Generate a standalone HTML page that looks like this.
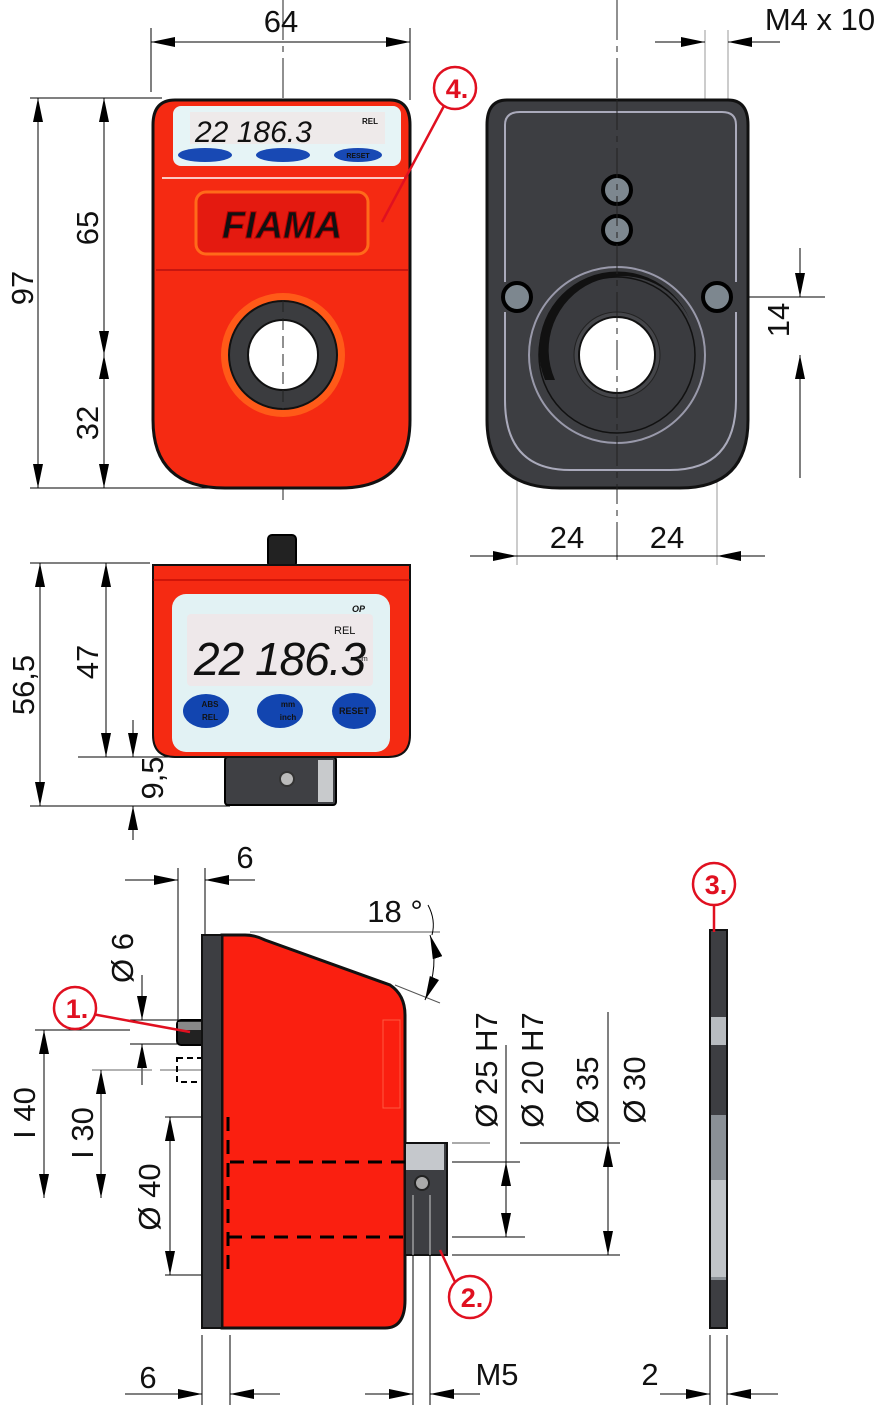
<!DOCTYPE html>
<html><head><meta charset="utf-8"><style>
html,body{margin:0;padding:0;background:#fff;}
svg{display:block;}
text{font-family:"Liberation Sans",sans-serif;fill:#111;}
.d{font-size:31px;}
</style></head><body>
<svg width="882" height="1408" viewBox="0 0 882 1408" xmlns="http://www.w3.org/2000/svg">
<defs>
<marker id="a" viewBox="0 0 24 10" refX="24" refY="5" markerWidth="24" markerHeight="10" markerUnits="userSpaceOnUse" orient="auto-start-reverse"><path d="M0,0 L24,5 L0,10 Z" fill="#000"/></marker>
</defs>
<g stroke="#000" stroke-width="1" fill="none">
<!-- 64 -->
<line x1="151" y1="28" x2="151" y2="92"/><line x1="410" y1="28" x2="410" y2="100"/>
<line x1="151" y1="42" x2="410" y2="42" marker-start="url(#a)" marker-end="url(#a)"/>
<!-- 97/65/32 -->
<line x1="30" y1="98" x2="162" y2="98"/><line x1="30" y1="488" x2="240" y2="488"/>
<line x1="38" y1="98" x2="38" y2="488" marker-start="url(#a)" marker-end="url(#a)"/>
<line x1="104" y1="98" x2="104" y2="355" marker-start="url(#a)" marker-end="url(#a)"/>
<line x1="104" y1="355" x2="104" y2="488" marker-start="url(#a)" marker-end="url(#a)"/>
<!-- centerline front -->
<line x1="283" y1="0" x2="283" y2="500" stroke-dasharray="40,6,6,6" stroke="#222"/>
<!-- M4x10 -->
<line x1="705" y1="30" x2="705" y2="290" stroke="#999"/><line x1="728" y1="30" x2="728" y2="290" stroke="#999"/>
<line x1="655" y1="42" x2="705" y2="42" marker-end="url(#a)"/>
<line x1="780" y1="42" x2="728" y2="42" marker-end="url(#a)"/>
<!-- 14 -->
<line x1="717" y1="297" x2="825" y2="297"/>
<line x1="800" y1="248" x2="800" y2="297" marker-end="url(#a)"/>
<line x1="800" y1="478" x2="800" y2="355" marker-end="url(#a)"/>
<!-- 24 24 -->
<line x1="517" y1="297" x2="517" y2="565" stroke="#999"/><line x1="717" y1="297" x2="717" y2="565" stroke="#999"/>
<line x1="617" y1="0" x2="617" y2="560" stroke-dasharray="40,6,6,6" stroke="#222"/>
<line x1="470" y1="556" x2="517" y2="556" marker-end="url(#a)"/>
<line x1="517" y1="556" x2="717" y2="556"/>
<line x1="765" y1="556" x2="717" y2="556" marker-end="url(#a)"/>
<!-- 56,5 / 47 / 9,5 -->
<line x1="30" y1="563" x2="150" y2="563"/><line x1="78" y1="757" x2="230" y2="757"/><line x1="30" y1="806" x2="230" y2="806"/>
<line x1="40" y1="563" x2="40" y2="806" marker-start="url(#a)" marker-end="url(#a)"/>
<line x1="106" y1="563" x2="106" y2="757" marker-start="url(#a)" marker-end="url(#a)"/>
<line x1="133" y1="720" x2="133" y2="757" marker-end="url(#a)"/>
<line x1="133" y1="840" x2="133" y2="806" marker-end="url(#a)"/>
<!-- bottom-left dims -->
<line x1="178" y1="868" x2="178" y2="1020"/><line x1="205" y1="868" x2="205" y2="935"/>
<line x1="125" y1="880" x2="178" y2="880" marker-end="url(#a)"/>
<line x1="255" y1="880" x2="205" y2="880" marker-end="url(#a)"/>
<line x1="130" y1="1020" x2="178" y2="1020"/><line x1="130" y1="1044" x2="178" y2="1044"/>
<line x1="142" y1="975" x2="142" y2="1020" marker-end="url(#a)"/>
<line x1="142" y1="1085" x2="142" y2="1044" marker-end="url(#a)"/>
<line x1="35" y1="1030" x2="130" y2="1030"/>
<line x1="44" y1="1030" x2="44" y2="1198" marker-start="url(#a)"/>
<line x1="44" y1="1150" x2="44" y2="1198" marker-end="url(#a)"/>
<line x1="92" y1="1070" x2="280" y2="1070" stroke="#666" stroke-dasharray="60,8"/>
<line x1="101" y1="1070" x2="101" y2="1198" marker-start="url(#a)"/>
<line x1="101" y1="1150" x2="101" y2="1198" marker-end="url(#a)"/>
<line x1="165" y1="1117" x2="225" y2="1117"/><line x1="165" y1="1275" x2="225" y2="1275"/>
<line x1="170" y1="1117" x2="170" y2="1275" marker-start="url(#a)" marker-end="url(#a)"/>
<!-- 18 deg -->
<line x1="250" y1="932" x2="440" y2="932" stroke="#555"/>
<line x1="395" y1="985" x2="440" y2="1003" stroke="#555"/>
<path d="M430,935 Q440,965 425,1000" marker-start="url(#a)" marker-end="url(#a)"/>
<path d="M428,905 Q436,920 432,935"/>
<!-- right bore dims -->
<line x1="452" y1="1143" x2="490" y2="1143" stroke="#555"/><line x1="452" y1="1162" x2="520" y2="1162"/>
<line x1="452" y1="1237" x2="525" y2="1237"/><line x1="452" y1="1255" x2="620" y2="1255"/>
<line x1="520" y1="1143" x2="620" y2="1143"/>
<line x1="506" y1="1045" x2="506" y2="1162"/>
<line x1="506" y1="1210" x2="506" y2="1162" marker-end="url(#a)"/>
<line x1="506" y1="1195" x2="506" y2="1237" marker-end="url(#a)"/>
<line x1="608" y1="1012" x2="608" y2="1143"/>
<line x1="608" y1="1200" x2="608" y2="1143" marker-end="url(#a)"/>
<line x1="608" y1="1200" x2="608" y2="1255" marker-end="url(#a)"/>
<!-- bottom dims -->
<line x1="202" y1="1335" x2="202" y2="1405"/><line x1="230" y1="1335" x2="230" y2="1405"/>
<line x1="125" y1="1394" x2="202" y2="1394" marker-end="url(#a)"/>
<line x1="280" y1="1394" x2="230" y2="1394" marker-end="url(#a)"/>
<line x1="413" y1="1255" x2="413" y2="1405"/><line x1="430" y1="1255" x2="430" y2="1405"/>
<line x1="365" y1="1394" x2="413" y2="1394" marker-end="url(#a)"/>
<line x1="480" y1="1394" x2="430" y2="1394" marker-end="url(#a)"/>
<line x1="710" y1="1335" x2="710" y2="1405"/><line x1="727" y1="1335" x2="727" y2="1405"/>
<line x1="660" y1="1394" x2="710" y2="1394" marker-end="url(#a)"/>
<line x1="778" y1="1394" x2="727" y2="1394" marker-end="url(#a)"/>
</g>

<!-- FRONT VIEW -->
<path d="M175,100 L390,100 Q410,100 410,125 L410,420 Q410,488 340,488 L225,488 Q153,488 153,420 L153,125 Q153,100 175,100 Z" fill="#f52a12" stroke="#111" stroke-width="3"/>
<rect x="173" y="106" width="228" height="60" rx="8" fill="#e6f4f6"/>
<rect x="190" y="112" width="195" height="32" fill="#eeeaea"/>
<text x="195" y="142" font-size="30" font-style="italic" fill="#111">22 186.3</text>
<text x="362" y="124" font-size="8" font-weight="bold">REL</text>
<ellipse cx="205" cy="155" rx="27" ry="7" fill="#1849b4"/>
<ellipse cx="283" cy="155" rx="27" ry="7" fill="#1849b4"/>
<ellipse cx="358" cy="155" rx="24" ry="7" fill="#1849b4"/>
<text x="358" y="158" font-size="7" font-weight="bold" text-anchor="middle" fill="#fff">RESET</text>
<line x1="162" y1="178" x2="404" y2="178" stroke="#fff" stroke-width="1.5"/>
<line x1="156" y1="270" x2="408" y2="270" stroke="#b81010" stroke-width="1.5"/>
<rect x="196" y="192" width="172" height="62" rx="10" fill="#e41a10" stroke="#ff6a1a" stroke-width="3"/>
<text x="282" y="238" font-size="38" font-style="italic" font-weight="bold" text-anchor="middle" fill="#f0301a" stroke="#b00" stroke-width="1">FIAMA</text>
<circle cx="283" cy="355" r="62" fill="#ff5a18"/>
<circle cx="283" cy="355" r="54" fill="#3b3c3f" stroke="#111" stroke-width="2"/>
<circle cx="283" cy="355" r="35" fill="#fff" stroke="#111" stroke-width="2"/>
<line x1="283" y1="300" x2="283" y2="410" stroke="#222" stroke-dasharray="12,6"/>

<!-- BACK VIEW -->
<path d="M507,100 L728,100 Q748,100 748,125 L748,420 Q748,488 680,488 L560,488 Q487,488 487,420 L487,125 Q487,100 507,100 Z" fill="#3d3e42" stroke="#111" stroke-width="3"/>
<path d="M505,282 L505,125 Q505,112 520,112 L722,112 Q736,112 736,125 L736,282" fill="none" stroke="#aab" stroke-width="2"/>
<path d="M505,312 L505,400 Q505,470 570,470 L670,470 Q736,470 736,400 L736,312" fill="none" stroke="#aab" stroke-width="2"/>
<circle cx="617" cy="355" r="88" fill="none" stroke="#99a" stroke-width="2"/>
<circle cx="617" cy="355" r="78" fill="#3a3b3f" stroke="#111" stroke-width="1.5"/>
<path d="M545,380 A78,78 0 0 1 690,320 A70,70 0 0 0 555,380 Z" fill="#111"/>
<circle cx="617" cy="355" r="43" fill="#45464a" stroke="#222"/>
<circle cx="617" cy="355" r="38" fill="#fff" stroke="#111" stroke-width="2"/>
<g fill="#7d878f" stroke="#000" stroke-width="4">
<circle cx="617" cy="190" r="14"/><circle cx="617" cy="230" r="14"/>
<circle cx="517" cy="297" r="14"/><circle cx="717" cy="297" r="14"/>
</g>
<line x1="617" y1="100" x2="617" y2="490" stroke="#222" stroke-dasharray="30,6,6,6"/>

<!-- MIDDLE SIDE VIEW -->
<rect x="268" y="535" width="28" height="32" rx="4" fill="#222" stroke="#000" stroke-width="2"/>
<rect x="225" y="757" width="111" height="48" rx="3" fill="#3f4044" stroke="#000" stroke-width="2"/>
<rect x="318" y="760" width="15" height="42" fill="#c8cacc"/>
<circle cx="287" cy="779" r="7" fill="#bbb" stroke="#333" stroke-width="2"/>
<path d="M153,565 L410,565 L410,735 Q410,757 388,757 L175,757 Q153,757 153,735 Z" fill="#f52a12" stroke="#111" stroke-width="2"/>
<line x1="153" y1="580" x2="410" y2="580" stroke="#a00"/>
<rect x="172" y="594" width="218" height="158" rx="14" fill="#e2f2f4"/>
<rect x="187" y="614" width="186" height="72" rx="4" fill="#eee8ea"/>
<text x="194" y="675" font-size="46" font-style="italic" fill="#111" letter-spacing="-1">22 186.3</text>
<text x="334" y="634" font-size="11">REL</text>
<text x="356" y="661" font-size="7">mm</text>
<text x="352" y="612" font-size="9" font-style="italic" font-weight="bold" fill="#1849b4">OP</text>
<ellipse cx="206" cy="711" rx="23" ry="17" fill="#1245b0"/>
<ellipse cx="280" cy="711" rx="23" ry="17" fill="#1245b0"/>
<ellipse cx="354" cy="711" rx="22" ry="18" fill="#1245b0"/>
<text x="210" y="707" font-size="8" font-weight="bold" text-anchor="middle" fill="#fff">ABS</text>
<text x="210" y="720" font-size="8" font-weight="bold" text-anchor="middle" fill="#fff">REL</text>
<text x="288" y="707" font-size="8" font-weight="bold" text-anchor="middle" fill="#fff">mm</text>
<text x="288" y="720" font-size="8" font-weight="bold" text-anchor="middle" fill="#fff">inch</text>
<text x="354" y="714" font-size="9" font-weight="bold" text-anchor="middle" fill="#fff">RESET</text>

<!-- BOTTOM SIDE VIEW -->
<rect x="177" y="1020" width="28" height="25" rx="4" fill="#222" stroke="#000" stroke-width="2"/>
<rect x="178" y="1022" width="26" height="8" fill="#888"/>
<rect x="177" y="1058" width="28" height="24" fill="none" stroke="#000" stroke-width="2" stroke-dasharray="6,4"/>
<path d="M222,935 L245,935 Q255,935 265,940 L390,985 Q405,995 405,1015 L405,1300 Q405,1328 385,1328 L222,1328 Z" fill="#fa1f10" stroke="#111" stroke-width="3"/>
<rect x="202" y="935" width="20" height="393" fill="#3d3e42" stroke="#111" stroke-width="2"/>
<rect x="383" y="1020" width="17" height="88" fill="none" stroke="#ff5a40"/>
<rect x="405" y="1143" width="42" height="112" fill="#3d3e42" stroke="#111" stroke-width="2"/>
<rect x="406" y="1144" width="38" height="26" fill="#c5c8cc"/>
<circle cx="422" cy="1183" r="7" fill="#aaa" stroke="#222" stroke-width="2"/>
<line x1="413" y1="1195" x2="413" y2="1255" stroke="#ccc"/><line x1="430" y1="1195" x2="430" y2="1255" stroke="#ccc"/>
<g stroke="#000" stroke-width="3" stroke-dasharray="14,9" fill="none">
<line x1="228" y1="1117" x2="228" y2="1275"/>
<line x1="230" y1="1162" x2="410" y2="1162"/>
<line x1="228" y1="1237" x2="405" y2="1237"/>
</g>

<!-- RIGHT PLATE -->
<rect x="710" y="930" width="17" height="398" fill="#3d3e42" stroke="#111" stroke-width="2"/>
<rect x="711" y="1017" width="15" height="28" fill="#b8bcc0"/>
<rect x="711" y="1115" width="15" height="165" fill="#8a9096"/>
<rect x="711" y="1180" width="15" height="97" fill="#c0c4c8"/>

<!-- callouts -->
<g stroke="#e01020" stroke-width="2.5" fill="#fff">
<line x1="445" y1="104" x2="382" y2="222"/>
<line x1="92" y1="1014" x2="190" y2="1032"/>
<line x1="455" y1="1282" x2="440" y2="1250"/>
<line x1="714" y1="902" x2="714" y2="932"/>
<circle cx="455" cy="88" r="21"/>
<circle cx="75" cy="1008" r="21"/>
<circle cx="470" cy="1297" r="21"/>
<circle cx="714" cy="884" r="21"/>
</g>
<g font-size="27" font-weight="bold" text-anchor="middle" style="fill:#e01020">
<text x="457" y="98" style="fill:#e01020">4.</text>
<text x="77" y="1018" style="fill:#e01020">1.</text>
<text x="472" y="1307" style="fill:#e01020">2.</text>
<text x="716" y="894" style="fill:#e01020">3.</text>
</g>

<!-- labels -->
<text class="d" x="281" y="32" text-anchor="middle">64</text>
<text class="d" x="820" y="30" text-anchor="middle">M4 x 10</text>
<text class="d" x="567" y="548" text-anchor="middle">24</text>
<text class="d" x="667" y="548" text-anchor="middle">24</text>
<text class="d" transform="translate(33,288) rotate(-90)" text-anchor="middle">97</text>
<text class="d" transform="translate(98,228) rotate(-90)" text-anchor="middle">65</text>
<text class="d" transform="translate(98,423) rotate(-90)" text-anchor="middle">32</text>
<text class="d" transform="translate(789,320) rotate(-90)" text-anchor="middle">14</text>
<text class="d" transform="translate(34,685) rotate(-90)" text-anchor="middle">56,5</text>
<text class="d" transform="translate(98,662) rotate(-90)" text-anchor="middle">47</text>
<text class="d" transform="translate(163,778) rotate(-90)" text-anchor="middle">9,5</text>
<text class="d" x="245" y="868" text-anchor="middle">6</text>
<text class="d" x="395" y="922" text-anchor="middle">18 °</text>
<text class="d" transform="translate(133,958) rotate(-90)" text-anchor="middle">Ø 6</text>
<text class="d" transform="translate(35,1113) rotate(-90)" text-anchor="middle">I 40</text>
<text class="d" transform="translate(93,1133) rotate(-90)" text-anchor="middle">I 30</text>
<text class="d" transform="translate(160,1197) rotate(-90)" text-anchor="middle">Ø 40</text>
<text class="d" transform="translate(497,1070) rotate(-90)" text-anchor="middle">Ø 25 H7</text>
<text class="d" transform="translate(543,1070) rotate(-90)" text-anchor="middle">Ø 20 H7</text>
<text class="d" transform="translate(598,1090) rotate(-90)" text-anchor="middle">Ø 35</text>
<text class="d" transform="translate(645,1090) rotate(-90)" text-anchor="middle">Ø 30</text>
<text class="d" x="148" y="1388" text-anchor="middle">6</text>
<text class="d" x="497" y="1385" text-anchor="middle">M5</text>
<text class="d" x="650" y="1385" text-anchor="middle">2</text>
</svg>
</body></html>
